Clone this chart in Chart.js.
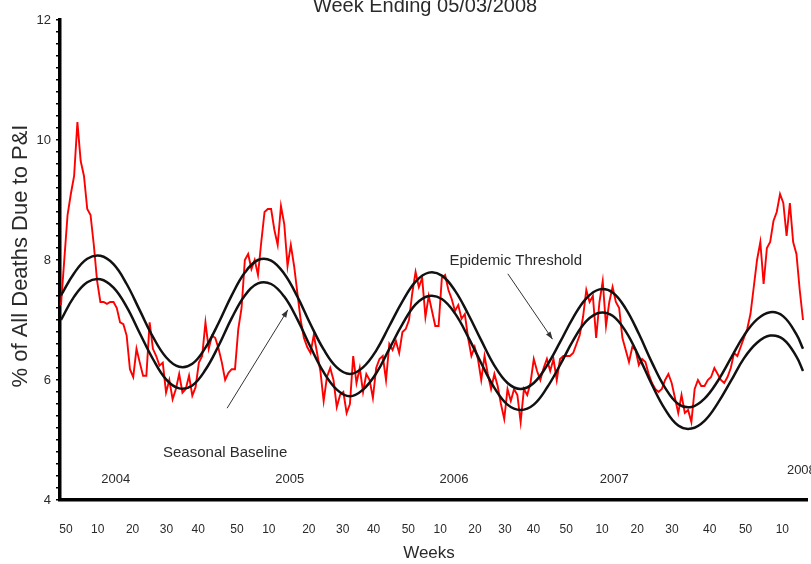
<!DOCTYPE html>
<html>
<head>
<meta charset="utf-8">
<script src="https://cdn.jsdelivr.net/npm/chart.js@4.4.1/dist/chart.umd.min.js"></script>
<style>
  html, body { margin: 0; padding: 0; background: #fff; }
  #wrap { width: 811px; height: 564px; position: relative; }
</style>
</head>
<body>
<div id="wrap"><canvas id="piChart"></canvas></div>
<script>
// weekly % of all deaths due to P&I, week index 0 = last weeks of 2003
const pctDeaths = [
  7.25, 8.0, 8.75, 9.1, 9.4, 10.3, 9.65, 9.4, 8.85, 8.75,
  8.25, 7.65, 7.3, 7.3, 7.27, 7.3, 7.3, 7.2, 6.96, 6.93,
  6.74, 6.18, 6.05, 6.52, 6.29, 6.07, 6.07, 6.96, 6.52, 6.4,
  6.24, 6.29, 5.79, 6.0, 5.68, 5.85, 6.1, 5.79, 5.85, 6.07,
  5.74, 5.88, 6.29, 6.4, 6.96, 6.52, 6.74, 6.7, 6.52, 6.29,
  6.0, 6.12, 6.18, 6.18, 6.85, 7.2, 8.0, 8.1, 7.85, 8.0,
  7.75, 8.3, 8.8, 8.85, 8.85, 8.5, 8.25, 8.9, 8.6, 7.9,
  8.25, 7.9, 7.45, 7.0, 6.7, 6.55, 6.45, 6.75, 6.45, 6.15,
  5.65, 6.05, 6.2, 6.0, 5.55, 5.75, 5.8, 5.45, 5.6, 6.4,
  5.95, 6.2, 5.8, 6.1, 6.0, 5.7, 6.2, 6.35, 6.4, 6.0,
  6.6, 6.5, 6.65, 6.45, 6.8, 6.85, 7.0, 7.45, 7.8, 7.55,
  7.7, 7.05, 7.4, 7.15, 6.9, 6.9, 7.7, 7.75, 7.5, 7.35,
  7.15, 7.25, 7.02, 7.1, 6.7, 6.4, 6.55, 6.35, 6.0, 6.4,
  6.1, 5.85, 6.1, 5.9, 5.6, 5.35, 5.85, 5.65, 5.85, 5.75,
  5.3, 5.85, 5.75, 5.95, 6.35, 6.15, 6.0, 6.2, 6.35, 6.15,
  6.35, 6.0, 6.35, 6.4, 6.4, 6.4, 6.45, 6.6, 6.75, 7.05,
  7.5, 7.3, 7.4, 6.7, 7.3, 7.65, 6.9, 7.3, 7.55, 7.3,
  7.2, 6.7, 6.5, 6.3, 6.55, 6.5, 6.25, 6.35, 6.3, 6.1,
  5.95, 5.85, 5.8, 5.85, 6.0, 6.1, 5.95, 5.7, 5.45, 5.75,
  5.45, 5.5, 5.3, 5.85, 6.0, 5.9, 5.9, 6.0, 6.05, 6.2,
  6.1, 6.0, 5.95, 6.05, 6.2, 6.45, 6.4, 6.55, 6.7, 6.85,
  7.1, 7.55, 8.0, 8.3, 7.6, 8.2, 8.3, 8.65, 8.8, 9.1,
  8.95, 8.4, 8.95, 8.3, 8.1, 7.5, 7.0
];

// smooth curves, read every 4 weeks
const curveWeeks = [
  0, 4, 8, 12, 16, 20, 24, 28, 32, 36, 40, 44, 48, 52, 56, 60, 64, 68, 72,
  76, 80, 84, 88, 92, 96, 100, 104, 108, 112, 116, 120, 124, 128, 132, 136,
  140, 144, 148, 152, 156, 160, 164, 168, 172, 176, 180, 184, 188, 192, 196,
  200, 204, 208, 212, 216, 220, 224, 226
];
const threshold = [
  7.41, 7.78, 8.02, 8.07, 7.93, 7.60, 7.16, 6.72, 6.38, 6.22, 6.27, 6.54, 6.95,
  7.41, 7.79, 8.0, 7.99, 7.77, 7.39, 6.93, 6.51, 6.21, 6.10, 6.21, 6.49, 6.90,
  7.31, 7.64, 7.79, 7.74, 7.49, 7.10, 6.66, 6.24, 5.95, 5.85, 5.95, 6.24, 6.63,
  7.04, 7.36, 7.51, 7.46, 7.19, 6.77, 6.29, 5.87, 5.60, 5.55, 5.69, 5.98, 6.36,
  6.74, 7.01, 7.13, 7.06, 6.76, 6.52
];
const baseline = [
  7.0, 7.39, 7.63, 7.68, 7.54, 7.22, 6.78, 6.35, 6.01, 5.86, 5.91, 6.17, 6.57,
  7.03, 7.41, 7.61, 7.60, 7.39, 7.01, 6.55, 6.13, 5.84, 5.73, 5.84, 6.11, 6.52,
  6.93, 7.26, 7.40, 7.35, 7.11, 6.72, 6.28, 5.87, 5.59, 5.50, 5.59, 5.87, 6.25,
  6.66, 6.98, 7.12, 7.07, 6.81, 6.39, 5.92, 5.51, 5.24, 5.19, 5.32, 5.61, 5.98,
  6.36, 6.62, 6.74, 6.68, 6.39, 6.15
];

// week-of-year tick labels as printed under the axis
const weekTickPos = [
  1.5, 11.2, 21.8, 32.1, 41.8, 53.6, 63.3, 75.5, 85.8, 95.2, 105.8,
  115.5, 126.1, 135.2, 143.9, 153.9, 164.8, 175.5, 186.1, 197.6, 208.5, 219.7
];
const weekTickLabels = [
  "50", "10", "20", "30", "40", "50", "10", "20", "30", "40", "50",
  "10", "20", "30", "40", "50", "10", "20", "30", "40", "50", "10"
];

const yearLabels = ["2004", "2005", "2006", "2007", "2008"];
const yearPos = [16.7, 69.7, 119.7, 168.5, 225.5];
const yearLevel = [4.35, 4.35, 4.35, 4.35, 4.5];

const FONT = '"Liberation Sans", Arial, sans-serif';

function arrow(ctx, x1, y1, x2, y2) {
  const a = Math.atan2(y2 - y1, x2 - x1);
  ctx.beginPath();
  ctx.moveTo(x1, y1);
  ctx.lineTo(x2, y2);
  ctx.stroke();
  ctx.beginPath();
  ctx.moveTo(x2, y2);
  ctx.lineTo(x2 - 8 * Math.cos(a - 0.35), y2 - 8 * Math.sin(a - 0.35));
  ctx.lineTo(x2 - 8 * Math.cos(a + 0.35), y2 - 8 * Math.sin(a + 0.35));
  ctx.closePath();
  ctx.fill();
}

const textPlugin = {
  id: "chartText",
  afterDraw(chart) {
    const { ctx } = chart;
    const x = chart.scales.x, y = chart.scales.y;
    ctx.save();
    ctx.fillStyle = "#2a2a2a";
    ctx.strokeStyle = "#333";
    ctx.lineWidth = 1;
    ctx.textAlign = "center";

    ctx.font = "20px " + FONT;
    ctx.textBaseline = "alphabetic";
    ctx.fillText("Week Ending 05/03/2008", 425, 12);

    ctx.textBaseline = "middle";
    ctx.font = "17px " + FONT;
    ctx.fillText("Weeks", 429, 553);

    ctx.save();
    ctx.translate(21, 256);
    ctx.rotate(-Math.PI / 2);
    ctx.font = "22px " + FONT;
    ctx.fillText("% of All Deaths Due to P&I", 0, 0);
    ctx.restore();

    ctx.font = "13px " + FONT;
    yearLabels.forEach((t, k) => {
      ctx.fillText(t, x.getPixelForValue(yearPos[k]), y.getPixelForValue(yearLevel[k]));
    });

    ctx.font = "15px " + FONT;
    ctx.fillText("Seasonal Baseline", x.getPixelForValue(50), y.getPixelForValue(4.78));
    ctx.fillText("Epidemic Threshold", x.getPixelForValue(138.5), y.getPixelForValue(7.98));

    ctx.fillStyle = "#333";
    arrow(ctx, x.getPixelForValue(50.6), y.getPixelForValue(5.53),
      x.getPixelForValue(69.1), y.getPixelForValue(7.17));
    arrow(ctx, x.getPixelForValue(136.1), y.getPixelForValue(7.77),
      x.getPixelForValue(149.7), y.getPixelForValue(6.68));
    ctx.restore();
  }
};

new Chart(document.getElementById("piChart"), {
  type: "line",
  data: {
    datasets: [
      {
        label: "Epidemic Threshold",
        data: curveWeeks.map((w, k) => ({ x: w, y: threshold[k] })),
        borderColor: "#111",
        borderWidth: 2.5,
        pointRadius: 0,
        tension: 0.4,
      },
      {
        label: "Seasonal Baseline",
        data: curveWeeks.map((w, k) => ({ x: w, y: baseline[k] })),
        borderColor: "#111",
        borderWidth: 2.5,
        pointRadius: 0,
        tension: 0.4,
      },
      {
        label: "% P&I",
        data: pctDeaths.map((v, i) => ({ x: i, y: v })),
        borderColor: "#ff0000",
        borderWidth: 1.9,
        pointRadius: 0,
        tension: 0,
      },
    ],
  },
  options: {
    responsive: true,
    maintainAspectRatio: false,
    animation: false,
    layout: { padding: { top: 20, right: 0, left: 0, bottom: 0 } },
    plugins: {
      legend: { display: false },
      tooltip: { enabled: false },
    },
    scales: {
      x: {
        type: "linear",
        min: -0.3,
        max: 227.28,
        afterFit: (scale) => { scale.height = 64; },
        afterBuildTicks: (scale) => {
          scale.ticks = weekTickPos.map((v) => ({ value: v }));
        },
        grid: { display: false, drawTicks: false },
        border: { display: true, color: "#000", width: 3.5 },
        ticks: {
          autoSkip: false,
          maxRotation: 0,
          padding: 22,
          color: "#2a2a2a",
          font: { family: FONT, size: 12 },
          callback: (value, index) => weekTickLabels[index],
        },
      },
      y: {
        min: 4,
        max: 12,
        afterFit: (scale) => { scale.width = 60; },
        grid: {
          display: true,
          drawOnChartArea: false,
          drawTicks: true,
          tickLength: 4,
          color: "#000",
          lineWidth: 1.5,
        },
        border: { display: true, color: "#000", width: 3.5 },
        ticks: {
          stepSize: 0.2,
          autoSkip: false,
          maxTicksLimit: 100,
          padding: 5,
          color: "#2a2a2a",
          font: { family: FONT, size: 13 },
          callback: (v) => (Math.round(v * 10) % 20 === 0 ? String(Math.round(v)) : ""),
        },
      },
    },
  },
  plugins: [textPlugin],
});
</script>
</body>
</html>
